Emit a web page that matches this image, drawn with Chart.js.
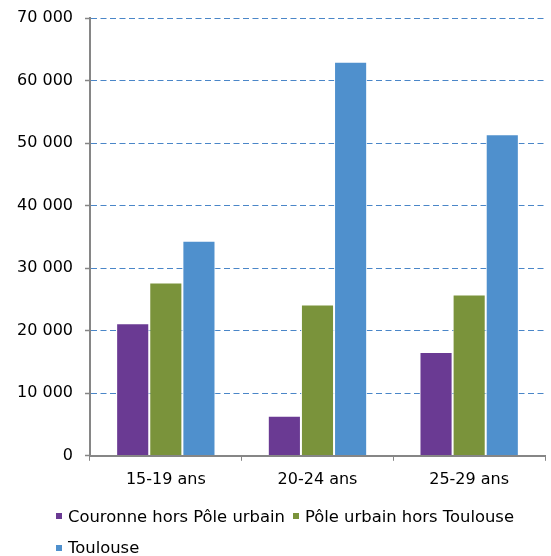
<!DOCTYPE html>
<html lang="fr">
<head>
<meta charset="utf-8">
<title>Jeunes de 15 à 29 ans par territoire</title>
<script src="https://cdn.jsdelivr.net/npm/chart.js@4/dist/chart.umd.min.js"></script>
<style>
  html, body { margin: 0; padding: 0; background: #fff; }
  #wrap { position: relative; width: 551px; height: 556px; }
  #legend {
    position: absolute; left: 56px; top: 506px; width: 470px;
    display: flex; flex-wrap: wrap; column-gap: 8px; row-gap: 11.5px;
    font: 16.4px "DejaVu Sans", sans-serif; color: #000;
  }
  #legend .item { display: flex; align-items: center; height: 20px; white-space: nowrap; }
  #legend .box { width: 6px; height: 6px; margin-right: 6px; }
</style>
</head>
<body>
<div id="wrap">
  <canvas id="chart" width="551" height="556"></canvas>
  <div id="legend"></div>
</div>
<script>
// Age groups and population per territory
const ageGroups = ['15-19 ans', '20-24 ans', '25-29 ans'];
const seriesNames = ['Couronne hors Pôle urbain', 'Pôle urbain hors Toulouse', 'Toulouse'];
const couronne = [21200, 6400, 16600];
const poleUrbain = [27700, 24200, 25800];
const toulouse = [34400, 63000, 51400];
const yTicks = [0, 10000, 20000, 30000, 40000, 50000, 60000, 70000];

const palette = ['#6a3a93', '#7a933b', '#4f90cd'];
const axisGray = 'rgb(134, 134, 134)';
const gridBlue = 'rgb(74, 134, 200)';

// "70 000" style thousands separator
function formatNumber(v) {
  return String(v).replace(/\B(?=(\d{3})+(?!\d))/g, ' ');
}

const values = [couronne, poleUrbain, toulouse];
const datasets = seriesNames.map((name, i) => ({
  label: name,
  data: values[i],
  backgroundColor: palette[i],
  borderColor: 'rgba(255, 255, 255, 0.85)',
  borderWidth: 1,
  borderSkipped: 'start',
  categoryPercentage: 0.655,
  barPercentage: 1
}));

Chart.defaults.font.family = '"DejaVu Sans", sans-serif';
Chart.defaults.font.size = 16;
Chart.defaults.color = '#000';
Chart.defaults.borderColor = gridBlue;

new Chart(document.getElementById('chart'), {
  type: 'bar',
  data: { labels: ageGroups, datasets: datasets },
  options: {
    responsive: false,
    animation: false,
    devicePixelRatio: 1,
    layout: { padding: { left: 5, top: 18, right: 6, bottom: 58 } },
    plugins: {
      legend: { display: false },
      tooltip: { enabled: false }
    },
    scales: {
      x: {
        grid: {
          display: true,
          drawOnChartArea: false,
          offset: true,
          tickLength: 5,
          tickColor: axisGray,
          tickWidth: 1
        },
        // drawn above the dashed zero line of the y grid
        border: { display: true, color: axisGray, width: 2, z: 1 },
        ticks: { padding: 9 }
      },
      y: {
        min: 0,
        max: 70000,
        afterBuildTicks: (scale) => {
          scale.ticks = yTicks.map(v => ({ value: v }));
        },
        // keep the top label from pushing the plot down
        afterFit: (scale) => {
          scale.paddingTop = 10;
          scale.paddingBottom = 10;
        },
        ticks: {
          padding: 12,
          callback: (v) => formatNumber(v)
        },
        grid: {
          display: true,
          drawOnChartArea: true,
          color: gridBlue,
          lineWidth: 1,
          tickLength: 5,
          tickColor: axisGray,
          tickWidth: 1.5,
          tickBorderDash: []
        },
        border: { display: true, color: axisGray, width: 2, dash: [6, 3.5], z: 1 }
      }
    }
  }
});

// Legend as HTML so the row spacing can follow the layout
const legend = document.getElementById('legend');
seriesNames.forEach((name, i) => {
  const item = document.createElement('span');
  item.className = 'item';
  const box = document.createElement('span');
  box.className = 'box';
  box.style.background = palette[i];
  item.appendChild(box);
  item.appendChild(document.createTextNode(name));
  legend.appendChild(item);
});
</script>
</body>
</html>
